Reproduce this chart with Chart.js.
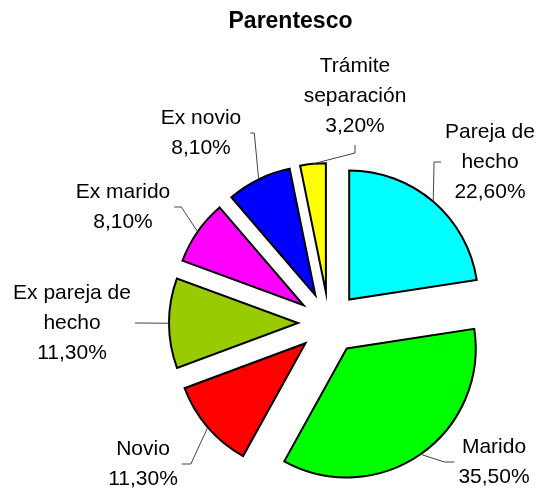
<!DOCTYPE html>
<html lang="es">
<head>
  <meta charset="UTF-8">
  <title>Parentesco</title>
  <script src="https://cdn.jsdelivr.net/npm/chart.js"></script>
  <style>
    html, body {
      margin: 0;
      padding: 0;
      background: #fff;
    }
    #wrap {
      width: 537px;
      height: 492px;
      position: relative;
    }
  </style>
</head>
<body>
  <div id="wrap"><canvas id="pieChart"></canvas></div>

  <script>
    const categories = ["Pareja de hecho", "Marido", "Novio", "Ex pareja de hecho", "Ex marido", "Ex novio", "Trámite separación"];
    const values = [22.6, 35.5, 11.3, 11.3, 8.1, 8.1, 3.2];
    const labelLines = [["Pareja de", "hecho"], ["Marido"], ["Novio"], ["Ex pareja de", "hecho"], ["Ex marido"], ["Ex novio"], ["Trámite", "separación"]];
    const sliceColors = ["#00FFFF", "#00FF00", "#FF0000", "#99CC00", "#FF00FF", "#0000FF", "#FFFF00"];

    // label placement relative to the pie centre + side where the leader line attaches
    const labelLayout = [
      { dx: 161, dy: -161, side: "left", stub: 7 },
      { dx: 165, dy: 139, side: "left", stub: 10 },
      { dx: -186, dy: 141, side: "right", stub: 9 },
      { dx: -257, dy: 0, side: "right", stub: 8 },
      { dx: -206, dy: -116, side: "right", stub: 7 },
      { dx: -128, dy: -190, side: "right", stub: 4, pad: 9 },
      { dx: 26, dy: -227, side: "bottom", stub: 8 }
    ];

    const EXPLODE = 31;
    const FONT = '21px "Liberation Sans", Arial, sans-serif';
    const LINE_H = 30;

    // pull every slice out from the centre along its mid angle
    const explodePlugin = {
      id: "explode",
      beforeDatasetDraw(chart, args) {
        const ctx = chart.ctx;
        args.meta.data.forEach(arc => {
          const mid = (arc.startAngle + arc.endAngle) / 2;
          ctx.save();
          ctx.translate(Math.cos(mid) * EXPLODE, Math.sin(mid) * EXPLODE);
          arc.draw(ctx);
          ctx.restore();
        });
        return false;
      }
    };

    const labelPlugin = {
      id: "sliceLabels",
      afterDatasetsDraw(chart) {
        const ctx = chart.ctx;
        const arcs = chart.getDatasetMeta(0).data;
        ctx.save();
        ctx.font = FONT;
        ctx.textAlign = "center";
        ctx.textBaseline = "middle";
        arcs.forEach((arc, i) => {
          const mid = (arc.startAngle + arc.endAngle) / 2;
          const ox = arc.x + Math.cos(mid) * (EXPLODE + arc.outerRadius);
          const oy = arc.y + Math.sin(mid) * (EXPLODE + arc.outerRadius);
          const lay = labelLayout[i];
          const lines = labelLines[i].concat(values[i].toFixed(2).replace(".", ",") + "%");
          const tx = arc.x + lay.dx;
          const ty = arc.y + lay.dy;
          const w = Math.max(...lines.map(l => ctx.measureText(l).width));
          const h = lines.length * LINE_H;
          const pad = lay.pad ?? 4;
          let ax, ay, ex, ey;
          if (lay.side === "left") {
            ax = tx - w / 2 - pad; ay = ty; ex = ax - lay.stub; ey = ay;
          } else if (lay.side === "right") {
            ax = tx + w / 2 + pad; ay = ty; ex = ax + lay.stub; ey = ay;
          } else {
            ax = tx; ay = ty + h / 2 + pad; ex = ax; ey = ay + lay.stub;
          }
          ctx.beginPath();
          ctx.moveTo(ax, ay);
          ctx.lineTo(ex, ey);
          ctx.lineTo(ox, oy);
          ctx.strokeStyle = "#444";
          ctx.lineWidth = 1;
          ctx.stroke();

          ctx.fillStyle = "#000";
          lines.forEach((l, k) => {
            ctx.fillText(l, tx, ty + (k - (lines.length - 1) / 2) * LINE_H);
          });
        });

        // title
        ctx.font = 'bold 23px "Liberation Sans", Arial, sans-serif';
        ctx.textBaseline = "alphabetic";
        ctx.fillText("Parentesco", 290.5, 28);
        ctx.restore();
      }
    };

    new Chart(document.getElementById("pieChart"), {
      type: "pie",
      data: {
        labels: categories,
        datasets: [{
          data: values,
          backgroundColor: sliceColors,
          borderColor: "#000",
          borderWidth: 2,
          borderJoinStyle: "miter"
        }]
      },
      options: {
        responsive: true,
        maintainAspectRatio: false,
        animation: false,
        radius: 129,
        layout: { padding: { left: 121, right: 0, top: 154, bottom: 0 } },
        plugins: {
          legend: { display: false },
          tooltip: { enabled: false },
          title: { display: false }
        }
      },
      plugins: [explodePlugin, labelPlugin]
    });
  </script>
</body>
</html>
